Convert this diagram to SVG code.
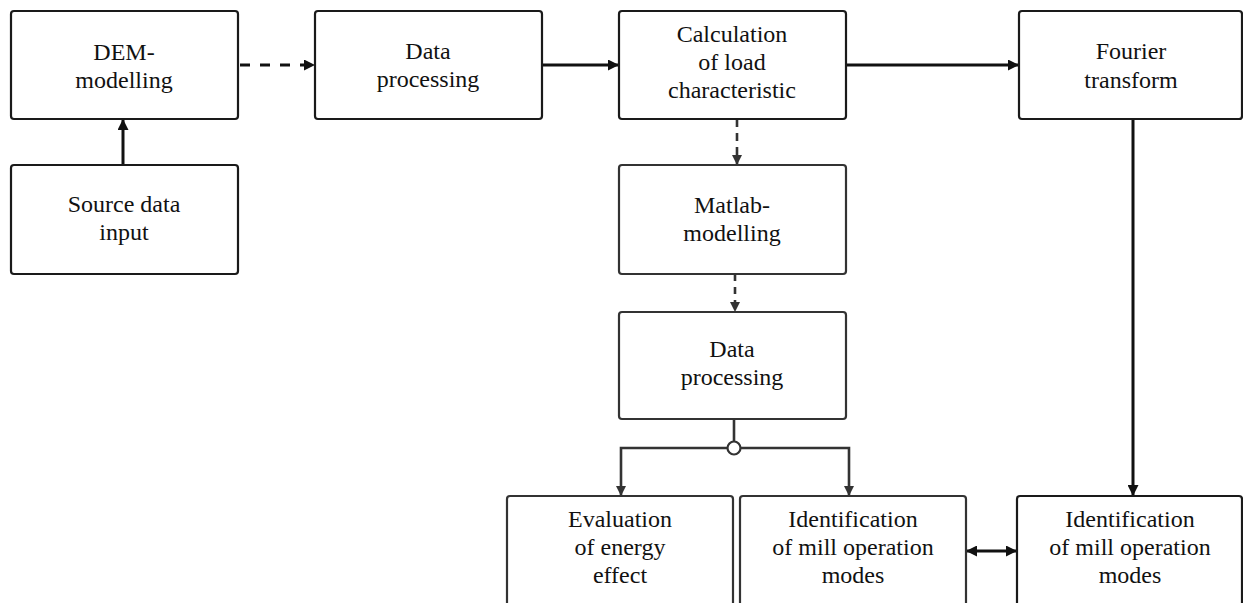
<svg xmlns="http://www.w3.org/2000/svg" width="1243" height="603" viewBox="0 0 1243 603">
<style>
.box{fill:#fff;stroke:#1a1a1a;stroke-width:2.2}
.box2{fill:#fff;stroke:#333;stroke-width:2.2}
text{font-family:"Liberation Serif","Times New Roman",serif;font-size:24px;fill:#111;text-anchor:middle}
.c{fill:none;stroke:#111;stroke-width:3}
.c2{fill:none;stroke:#333;stroke-width:2.6}
</style>
<defs>
<marker id="ah" viewBox="0 0 10 10" refX="10" refY="5" markerWidth="11" markerHeight="11" markerUnits="userSpaceOnUse" orient="auto-start-reverse">
<path d="M0,0 L10,5 L0,10 z" fill="#111"/>
</marker>
<marker id="ah2" viewBox="0 0 10 10" refX="10" refY="5" markerWidth="10" markerHeight="10" markerUnits="userSpaceOnUse" orient="auto">
<path d="M0,0 L10,5 L0,10 z" fill="#333"/>
</marker>
</defs>
<g id="connectors">
<path class="c" d="M123,165 V119" marker-end="url(#ah)"/>
<path class="c" d="M240,65 H315" stroke-dasharray="10,10" marker-end="url(#ah)"/>
<path class="c" d="M542,65 H619" marker-end="url(#ah)"/>
<path class="c" d="M846,65 H1019" marker-end="url(#ah)"/>
<path class="c" d="M1133,119 V496" marker-end="url(#ah)"/>
<path class="c2" d="M737,119 V165" stroke-dasharray="8,6" marker-end="url(#ah2)"/>
<path class="c2" d="M735,274 V312" stroke-dasharray="7,6" marker-end="url(#ah2)"/>
<path class="c2" d="M734,419 V441.5"/>
<path class="c2" d="M727.5,448 H621 V496" marker-end="url(#ah2)"/>
<path class="c2" d="M740.5,448 H849 V496" marker-end="url(#ah2)"/>
<circle cx="734" cy="448" r="6.5" fill="#fff" stroke="#333" stroke-width="2.2"/>
<path class="c" d="M966,551 H1017" marker-start="url(#ah)" marker-end="url(#ah)"/>
</g>
<g id="dem">
<rect class="box" x="11" y="11" width="227" height="108" rx="3"/>
<text x="124" y="60">DEM-</text>
<text x="124" y="88">modelling</text>
</g>
<g id="source">
<rect class="box" x="11" y="165" width="227" height="109" rx="3"/>
<text x="124" y="212">Source data</text>
<text x="124" y="240">input</text>
</g>
<g id="data1">
<rect class="box" x="315" y="11" width="227" height="108" rx="3"/>
<text x="428" y="59">Data</text>
<text x="428" y="87">processing</text>
</g>
<g id="calc">
<rect class="box" x="619" y="11" width="227" height="108" rx="3"/>
<text x="732" y="42">Calculation</text>
<text x="732" y="70">of load</text>
<text x="732" y="98">characteristic</text>
</g>
<g id="fourier">
<rect class="box" x="1019" y="11" width="223" height="108" rx="3"/>
<text x="1131" y="59">Fourier</text>
<text x="1131" y="88">transform</text>
</g>
<g id="matlab">
<rect class="box2" x="619" y="165" width="227" height="109" rx="3"/>
<text x="732" y="213">Matlab-</text>
<text x="732" y="241">modelling</text>
</g>
<g id="data2">
<rect class="box2" x="619" y="312" width="227" height="107" rx="3"/>
<text x="732" y="357">Data</text>
<text x="732" y="385">processing</text>
</g>
<g id="eval">
<rect class="box2" x="507" y="496" width="226" height="115" rx="3"/>
<text x="620" y="527">Evaluation</text>
<text x="620" y="555">of energy</text>
<text x="620" y="583">effect</text>
</g>
<g id="ident1">
<rect class="box2" x="740" y="496" width="226" height="115" rx="3"/>
<text x="853" y="527">Identification</text>
<text x="853" y="555">of mill operation</text>
<text x="853" y="583">modes</text>
</g>
<g id="ident2">
<rect class="box" x="1017" y="496" width="225" height="115" rx="3"/>
<text x="1130" y="527">Identification</text>
<text x="1130" y="555">of mill operation</text>
<text x="1130" y="583">modes</text>
</g>
</svg>
